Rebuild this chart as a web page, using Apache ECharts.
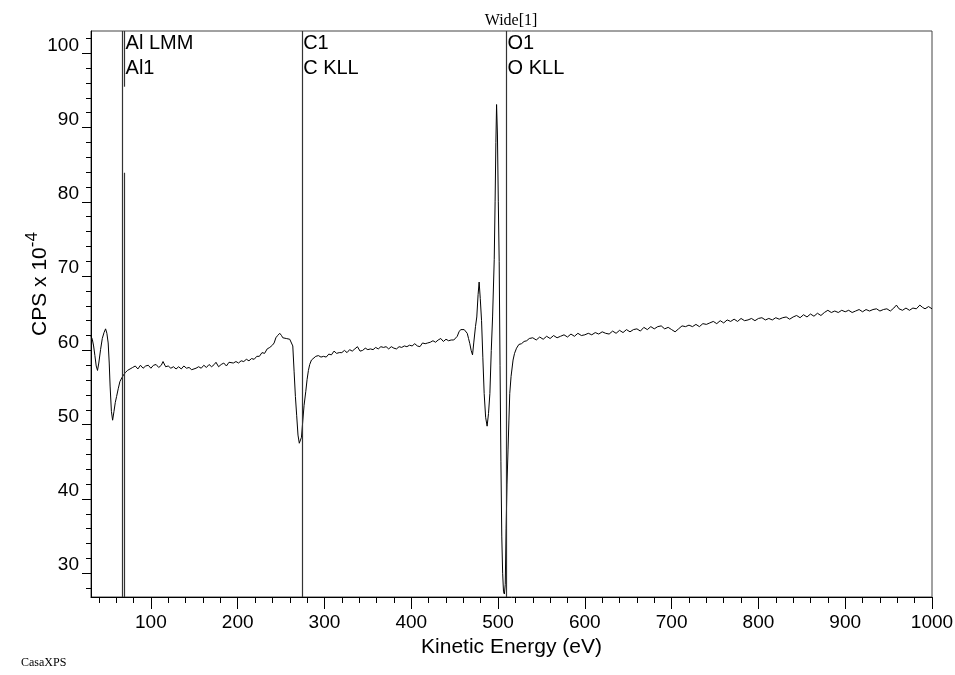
<!DOCTYPE html>
<html>
<head>
<meta charset="utf-8">
<script src="https://cdn.jsdelivr.net/npm/echarts@6/dist/echarts.min.js"></script>
<style>
html,body{margin:0;padding:0;background:#fff;overflow:hidden;}
#chart{width:955px;height:675px;}
</style>
</head>
<body>
<div id="chart"></div>
<script>
// ---- spectrum data: [kinetic energy (eV), CPS x 10^-4] ----
const alRegion = [[31,61.9],[32.5,61.5],[34,60.6],[35.5,59.3],[37,57.9],[38.5,57.3],[40,58.3],[42,60.1],[44,61.6],[46,62.4],[47.8,62.9],[49.3,62.3],[50.8,61.0],[52,58.3],[53,55.2],[54.5,51.8],[55.9,50.6],[57.5,51.8],[59,53.0],[60.5,53.8],[62.5,54.9],[64.3,55.8],[66.5,56.3],[68.5,56.7],[70.5,57.0],[73,57.3],[76,57.5]];
const lowBackground = [[79,57.7],[82,57.9],[85,57.5],[88,58.0],[91,57.6],[94,57.9],[97,58.0],[100,57.6],[103,58.0],[106,58.1],[109,57.7],[112,58.0],[114,58.5],[117,57.8],[120,57.9],[123,57.6],[126,57.8],[129,57.5],[132,57.8],[135,57.5],[138,57.9],[141,57.6],[144,57.7],[147,57.4],[149,57.2],[152,57.6],[155,57.8],[158,57.6],[161,58.0],[164,57.7],[167,58.1],[170,57.8],[173,58.1],[175,58.4],[178,57.8],[181,58.1],[184,58.3],[187,57.9],[190,58.4],[192,58.6],[195,58.3],[198,58.5],[201,58.3],[204,58.6],[207,58.5],[210,58.8],[213,58.6],[216,58.9],[219,58.8],[222,59.2],[225,59.2],[228,59.7],[231,59.6],[234,60.2],[237,60.4],[240,60.7],[242,61.0],[244,61.7],[246,62.0],[248.5,62.3],[250.5,62.0],[252,61.7],[254,61.5],[256,61.6],[258,61.5],[260,61.5],[262,61.4]];
const cRegion = [[263.5,60.6],[265,57.2],[266.5,53.8],[268,51.2],[269.5,48.6],[271,47.5],[272,47.3],[273.5,48.3],[275,50.5],[276.5,52.6],[278.5,54.5],[280,56.1],[281.5,57.3],[283,58.1],[285,58.7],[287,58.9],[290,59.2]];
const midBackground = [[293,59.3],[296,59.1],[299,59.2],[302,59.1],[305,59.5],[308,59.4],[311,59.9],[314,59.6],[317,59.7],[320,59.7],[323,60.0],[326,59.7],[329,60.1],[332,59.9],[335,60.2],[338,60.5],[341,59.9],[344,60.0],[347,60.3],[350,60.1],[353,60.2],[356,60.1],[359,60.4],[362,60.2],[365,60.5],[368,60.4],[371,60.5],[374,60.2],[377,60.5],[380,60.3],[383,60.2],[386,60.5],[389,60.4],[392,60.6],[395,60.5],[398,60.7],[401,60.6],[404,60.9],[407,60.6],[410,60.5],[413,61.0],[416,60.9],[419,61.0],[422,61.1],[425,61.3],[428,61.1],[431,61.4],[434,61.6],[437,61.2],[440,61.5],[443,61.3],[446,61.4],[449,61.4],[451,61.6],[453,61.9],[455,62.5],[457,62.8],[459,62.8],[461,62.8],[463,62.7]];
const oRegion = [[464.5,62.3],[466,61.6],[467.5,60.9],[469,60.0],[470.6,59.4],[472,61.0],[474,63.2],[475.5,64.5],[477,67.5],[478.2,69.2],[479.5,67.0],[481,64.0],[482.5,59.0],[484,54.2],[485.7,51.0],[487.4,49.8],[489,51.5],[490.6,54.2],[492.2,60.0],[493.7,64.5],[495.6,72.2],[496.6,80.0],[497.5,88.0],[498.3,93.1],[499.3,89.0],[500.3,80.0],[501.3,72.0],[502.3,58.0],[503.3,45.0],[504.3,35.0],[505.3,30.0],[506.3,27.5],[507.3,27.2],[508.3,28.5],[509.3,36.0],[510.3,42.0],[511.5,46.6],[512.5,50.5],[513.5,54.2],[515,56.5],[517.3,58.7],[519,59.6],[521.3,60.3],[524,60.8],[527,60.9],[530,61.2],[533,61.3],[536,61.6]];
const highBackground = [[540,61.7],[544,61.4],[548,61.8],[552,61.5],[556,61.9],[560,61.6],[564,62.0],[568,61.7],[572,61.9],[576,62.1],[580,61.8],[584,62.2],[588,61.9],[592,62.3],[596,62.0],[600,62.1],[604,62.3],[608,62.1],[612,62.4],[616,62.2],[620,62.5],[624,62.3],[628,62.2],[632,62.6],[636,62.3],[640,62.7],[644,62.4],[648,62.8],[652,62.5],[656,62.8],[660,62.9],[664,62.6],[668,63.1],[672,62.8],[676,63.2],[680,62.9],[684,63.2],[688,63.3],[692,62.9],[696,63.1],[700,62.8],[704,62.5],[708,62.9],[712,63.3],[716,63.2],[720,63.4],[724,63.2],[728,63.5],[732,63.2],[736,63.6],[740,63.5],[744,63.7],[748,63.9],[752,63.6],[756,64.0],[760,63.7],[764,64.1],[768,63.9],[772,64.2],[776,63.9],[780,64.3],[784,64.0],[788,64.1],[792,64.3],[796,64.0],[800,64.3],[804,64.4],[808,64.1],[812,64.3],[816,64.1],[820,64.4],[824,64.2],[828,64.4],[832,64.5],[836,64.2],[840,64.5],[844,64.7],[848,64.4],[852,64.8],[856,64.5],[860,64.9],[864,64.6],[868,65.0],[872,64.7],[876,65.1],[880,65.4],[884,65.1],[888,65.3],[892,65.1],[896,65.4],[900,65.2],[904,65.4],[908,65.1],[912,65.3],[916,65.5],[920,65.2],[924,65.5],[928,65.3],[932,65.5],[936,65.6],[940,65.3],[944,65.5],[948,65.6],[952,65.3],[956,65.7],[959,66.1],[962,65.6],[966,65.4],[970,65.7],[974,65.4],[978,65.7],[982,65.6],[986,66.1],[989,65.8],[992,65.6],[996,65.9],[1000,65.6]];

// ---- peak markers ----
const markerLineEV = [67.2, 274.3, 509.8];          // full-height marker lines
const al1LineEV = 69.7;                              // Al1 marker line (drawn with a gap)
const al1GapCPS = [83.9, 95.5];
const markerLabelEV = [69.7, 274.3, 509.8];
const markerLabelText = [['Al LMM', 'Al1'], ['C1', 'C KLL'], ['O1', 'O KLL']];

// ---- axes ----
const xMin = 31, xMax = 1000, yMin = 26.8, yMax = 103;
const xMajorTicks = [100, 200, 300, 400, 500, 600, 700, 800, 900, 1000];
const yMajorTicks = [30, 40, 50, 60, 70, 80, 90, 100];
const xMinorTicks = [];
for (let v = 40; v <= 1000; v += 20) if (v % 100 !== 0) xMinorTicks.push(v);
const yMinorTicks = [];
for (let v = 28; v <= 102; v += 2) if (v % 10 !== 0) yMinorTicks.push(v);

const spectrum = [].concat(alRegion, lowBackground, cRegion, midBackground, oRegion, highBackground);

const SANS = '"Liberation Sans", Arial, sans-serif';
const SERIF = '"Liberation Serif", "Times New Roman", serif';

const chart = echarts.init(document.getElementById('chart'), null, {renderer: 'canvas'});

const markData = markerLineEV.map(v => ({xAxis: v}));
markData.push([{coord: [al1LineEV, yMax]}, {coord: [al1LineEV, al1GapCPS[1]]}]);
markData.push([{coord: [al1LineEV, al1GapCPS[0]]}, {coord: [al1LineEV, yMin]}]);

const option = {
  animation: false,
  backgroundColor: '#fff',
  grid: {left: 91, right: 23, top: 31, bottom: 78, show: true, borderColor: '#444', borderWidth: 1,
         containLabel: false, outerBoundsMode: 'none'},
  xAxis: [
    {
      type: 'value', min: xMin, max: xMax, position: 'bottom',
      axisLine: {show: true, lineStyle: {color: '#000', width: 1}},
      axisTick: {show: true, customValues: xMajorTicks, length: 12, lineStyle: {color: '#000', width: 1}},
      axisLabel: {customValues: xMajorTicks, formatter: v => String(v), fontSize: 19, color: '#000', fontFamily: SANS, margin: 16},
      splitLine: {show: false},
      name: 'Kinetic Energy (eV)', nameLocation: 'middle', nameGap: 40,
      nameTextStyle: {fontSize: 21, color: '#000', fontFamily: SANS}
    },
    {
      type: 'value', min: xMin, max: xMax, position: 'bottom',
      axisLine: {show: false},
      axisTick: {show: true, customValues: xMinorTicks, length: 6, lineStyle: {color: '#000', width: 1}},
      axisLabel: {show: false}, splitLine: {show: false}
    }
  ],
  yAxis: [
    {
      type: 'value', min: yMin, max: yMax, position: 'left',
      axisLine: {show: true, lineStyle: {color: '#000', width: 1}},
      axisTick: {show: true, customValues: yMajorTicks, length: 9, lineStyle: {color: '#000', width: 1}},
      axisLabel: {customValues: yMajorTicks, formatter: v => String(v), fontSize: 19, color: '#000', fontFamily: SANS,
                  margin: 12, verticalAlign: 'bottom', lineHeight: 16},
      splitLine: {show: false}
    },
    {
      type: 'value', min: yMin, max: yMax, position: 'left',
      axisLine: {show: false},
      axisTick: {show: true, customValues: yMinorTicks, length: 5, lineStyle: {color: '#000', width: 1}},
      axisLabel: {show: false}, splitLine: {show: false}
    }
  ],
  series: [{
    type: 'line', xAxisIndex: 0, yAxisIndex: 0,
    data: spectrum, showSymbol: false, symbol: 'none',
    lineStyle: {color: '#000', width: 1},
    markLine: {
      silent: true, symbol: 'none', animation: false,
      label: {show: false},
      lineStyle: {color: '#333', width: 1.2, type: 'solid'},
      data: markData
    }
  }]
};
chart.setOption(option);

const graphics = [
  {type: 'text', x: 511, y: 21, style: {text: 'Wide[1]', fontSize: 16, fontFamily: SERIF, fill: '#000', align: 'center', verticalAlign: 'middle'}},
  {type: 'text', x: 21, y: 663, style: {text: 'CasaXPS', fontSize: 12, fontFamily: SERIF, fill: '#000', align: 'left', verticalAlign: 'middle'}},
  {type: 'text', x: 40, y: 284, rotation: Math.PI / 2,
   style: {text: 'CPS x 10{sup|-4}', fontSize: 21, fontFamily: SANS, fill: '#000', align: 'center', verticalAlign: 'middle',
           rich: {sup: {fontSize: 17, fontFamily: SANS, fill: '#000', lineHeight: 17, verticalAlign: 'top'}}, lineHeight: 33}}
];
markerLabelEV.forEach((ev, i) => {
  const px = chart.convertToPixel({xAxisIndex: 0}, ev);
  markerLabelText[i].forEach((t, j) => {
    graphics.push({type: 'text', x: px + 1, y: 43 + j * 25,
      style: {text: t, fontSize: 20, fontFamily: SANS, fill: '#000', align: 'left', verticalAlign: 'middle'}});
  });
});
chart.setOption({graphic: graphics});
</script>
</body>
</html>
